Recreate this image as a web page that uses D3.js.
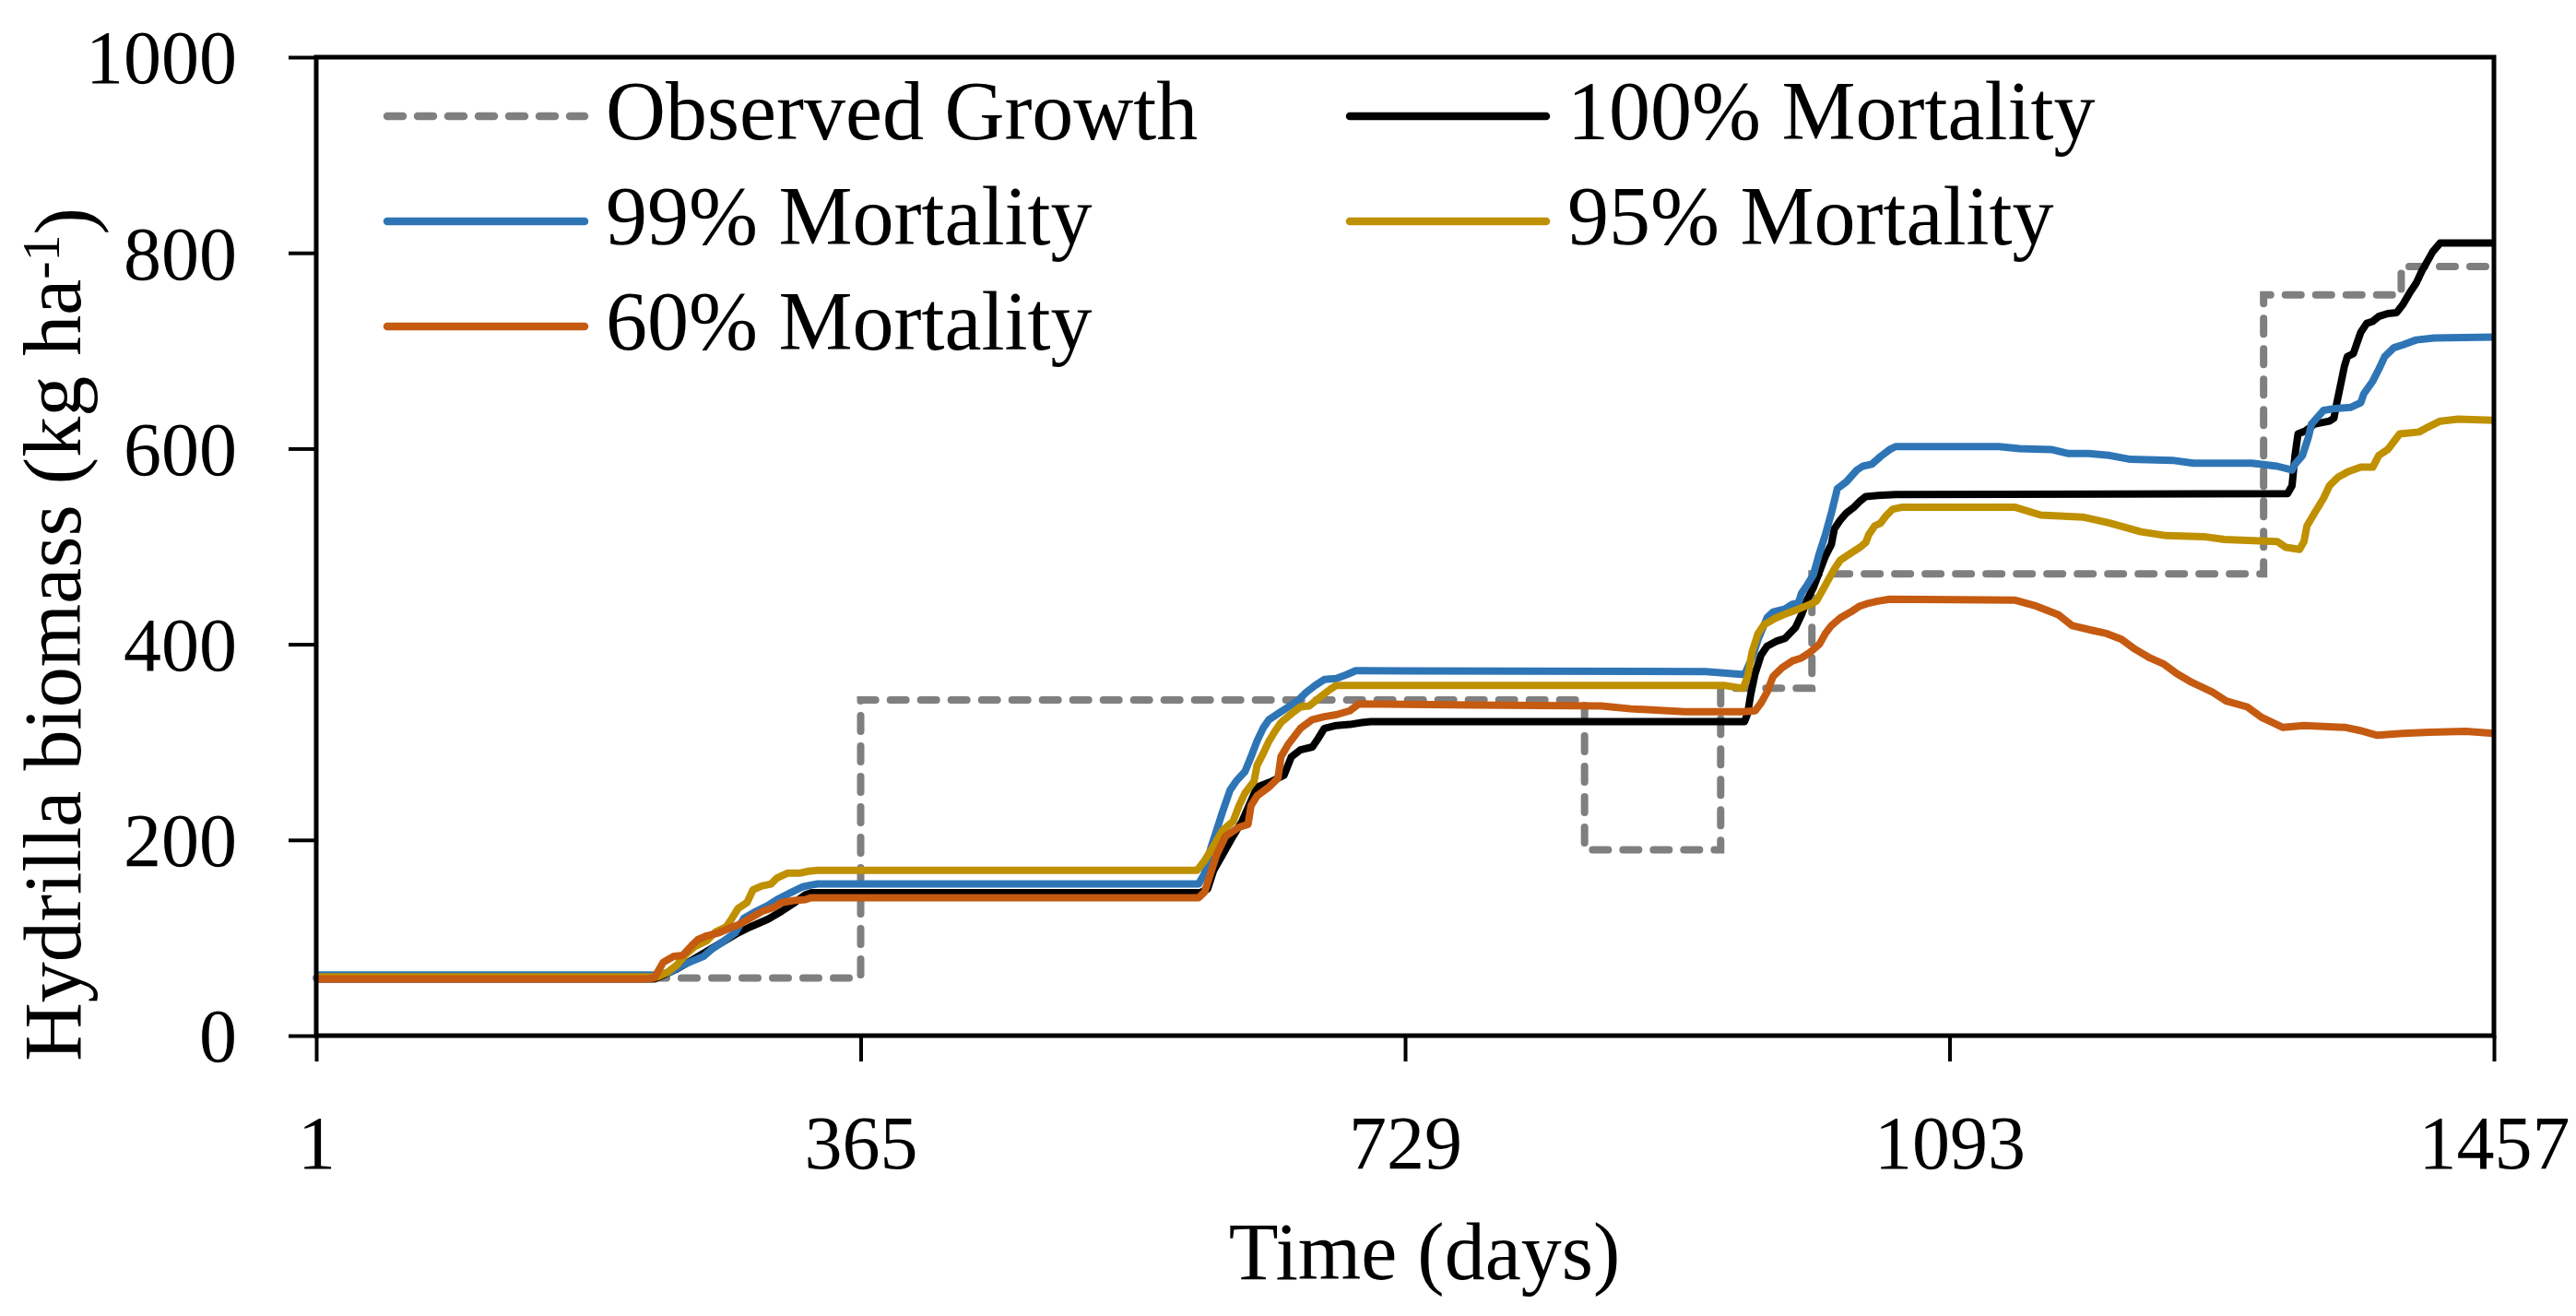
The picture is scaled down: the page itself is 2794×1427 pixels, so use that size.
<!DOCTYPE html>
<html>
<head>
<meta charset="utf-8">
<script src="https://cdn.jsdelivr.net/npm/d3@7"></script>
<style>
  html, body { margin: 0; padding: 0; background: #fff; }
  svg { display: block; }
  text { font-family: "Liberation Serif", "Times New Roman", serif; fill: #000; }
</style>
</head>
<body>
<svg id="chart" width="2794" height="1427"></svg>
<script>
// ---------------- DATA ----------------
const xTickValues = [1, 365, 729, 1093, 1457];
const yTickValues = [0, 200, 400, 600, 800, 1000];

const observedDays   = [1, 365, 849, 940, 1001, 1303, 1395, 1457];
const observedValues = [59, 343, 190, 355, 472, 757, 786, 786];

const mortality100 = [[1,58],[221,58],[227,58],[242,68],[262,86],[283,105],[291,111],[303,119],[312,127],[320,135],[328,144],[332,146],[592,146],[597,150],[601,169],[607,185],[614,204],[620,219],[630,254],[640,260],[648,266],[653,285],[659,292],[667,295],[671,304],[675,314],[683,317],[692,318],[700,320],[706,321],[956,321],[958,329],[960,348],[963,370],[967,389],[971,398],[977,403],[983,406],[990,417],[994,430],[998,446],[1002,458],[1006,474],[1010,490],[1014,502],[1016,518],[1020,527],[1024,534],[1029,540],[1033,546],[1037,551],[1045,552],[1057,553],[1319,554],[1322,562],[1324,593],[1326,615],[1331,618],[1337,625],[1347,628],[1350,631],[1352,647],[1355,669],[1357,684],[1359,694],[1363,697],[1365,706],[1368,719],[1372,728],[1376,730],[1380,735],[1386,738],[1392,739],[1396,747],[1401,760],[1405,769],[1409,782],[1412,790],[1416,801],[1421,810],[1457,810]];

const mortality99 = [[1,62],[221,62],[229,62],[238,65],[246,72],[252,76],[260,81],[266,89],[272,95],[281,105],[287,120],[295,127],[303,133],[309,139],[318,146],[326,152],[332,154],[336,155],[591,155],[595,166],[599,191],[603,210],[607,229],[612,251],[616,260],[622,270],[626,285],[630,301],[634,314],[638,323],[644,329],[651,336],[657,342],[663,351],[669,358],[675,364],[683,365],[690,369],[696,373],[700,373],[930,372],[956,369],[958,376],[961,386],[965,405],[971,427],[975,433],[983,436],[988,441],[992,442],[994,452],[998,461],[1002,471],[1006,493],[1010,512],[1014,534],[1018,559],[1024,566],[1031,578],[1035,582],[1041,584],[1047,592],[1053,599],[1057,602],[1126,602],[1140,600],[1161,599],[1172,595],[1186,595],[1200,593],[1214,589],[1242,588],[1256,585],[1295,585],[1312,582],[1322,578],[1324,584],[1329,593],[1333,612],[1335,625],[1343,639],[1351,641],[1361,642],[1368,647],[1370,656],[1376,669],[1380,681],[1384,694],[1390,703],[1396,706],[1405,711],[1417,713],[1457,714]];

const mortality95 = [[1,60],[229,60],[236,65],[242,72],[248,83],[254,91],[262,97],[268,106],[275,111],[279,120],[283,130],[289,136],[293,149],[299,153],[305,155],[309,161],[316,166],[324,166],[330,168],[336,169],[590,169],[595,179],[601,194],[607,210],[614,219],[618,235],[622,248],[628,260],[630,276],[634,288],[638,301],[642,311],[646,320],[653,329],[659,336],[665,337],[669,342],[673,347],[679,354],[683,358],[942,358],[955,355],[958,367],[961,392],[965,411],[969,420],[977,427],[985,432],[992,436],[1000,441],[1004,444],[1008,455],[1012,466],[1016,477],[1020,486],[1027,493],[1033,499],[1037,504],[1039,512],[1043,521],[1047,524],[1051,532],[1055,538],[1061,540],[1137,540],[1154,532],[1182,530],[1200,524],[1221,515],[1238,511],[1263,510],[1277,507],[1312,505],[1318,499],[1327,497],[1330,505],[1332,521],[1337,534],[1343,549],[1347,562],[1353,571],[1359,576],[1368,581],[1376,581],[1380,593],[1386,599],[1394,615],[1407,617],[1413,622],[1421,628],[1433,630],[1457,629]];

const mortality60 = [[1,58],[221,58],[227,59],[233,75],[240,81],[246,82],[252,92],[256,98],[262,102],[270,105],[279,111],[283,113],[291,120],[299,127],[307,131],[312,136],[320,138],[328,139],[332,141],[591,141],[595,147],[599,166],[603,185],[609,204],[618,213],[624,216],[626,235],[630,245],[638,254],[644,263],[646,285],[651,298],[659,314],[667,323],[675,326],[683,328],[692,332],[698,339],[776,338],[860,337],[880,334],[916,331],[955,331],[963,332],[967,340],[971,351],[975,367],[981,376],[988,383],[994,386],[1000,392],[1006,400],[1010,411],[1014,419],[1020,427],[1027,433],[1033,439],[1039,442],[1045,444],[1053,446],[1137,445],[1151,439],[1166,430],[1175,419],[1189,414],[1198,411],[1208,405],[1217,395],[1227,386],[1236,380],[1245,370],[1255,361],[1269,351],[1278,342],[1292,336],[1302,325],[1316,315],[1330,317],[1358,315],[1367,312],[1379,307],[1396,309],[1414,310],[1438,311],[1457,309]];

const seriesNames  = ["Observed Growth", "100% Mortality", "99% Mortality", "95% Mortality", "60% Mortality"];
const seriesColors = ["#7f7f7f", "#000000", "#2e75b6", "#bf9000", "#c55a11"];

// ---------------- LAYOUT ----------------
const svg = d3.select("#chart");
const W = 2794, H = 1427;
const plot = { left: 343, right: 2705, top: 62, bottom: 1123 };

svg.append("rect").attr("width", W).attr("height", H).attr("fill", "#fff");

const x = d3.scaleLinear().domain([1, 1457]).range([plot.left, plot.right]);
const y = d3.scaleLinear().domain([0, 1000]).range([plot.bottom, plot.top]);

const lineGen = d3.line().x(d => x(d[0])).y(d => y(d[1]));
const stepGen = d3.line().x(d => x(d[0])).y(d => y(d[1])).curve(d3.curveStepAfter);

const observed = observedDays.map((d, i) => [d, observedValues[i]]);

const g = svg.append("g");

// observed dashed (drawn first)
g.append("path")
  .datum(observed)
  .attr("d", stepGen)
  .attr("fill", "none")
  .attr("stroke", seriesColors[0])
  .attr("stroke-width", 8)
  .attr("stroke-dasharray", "17,16")
  .attr("stroke-linecap", "round");

const simSeries = [mortality100, mortality99, mortality95, mortality60];
simSeries.forEach((s, i) => {
  g.append("path")
    .datum(s)
    .attr("d", lineGen)
    .attr("fill", "none")
    .attr("stroke", seriesColors[i + 1])
    .attr("stroke-width", 8)
    .attr("stroke-linejoin", "round");
});

// plot border
svg.append("rect")
  .attr("x", plot.left).attr("y", plot.top)
  .attr("width", plot.right - plot.left).attr("height", plot.bottom - plot.top)
  .attr("fill", "none").attr("stroke", "#000").attr("stroke-width", 5);

// axes
const xAxis = d3.axisBottom(x).tickValues(xTickValues).tickSize(28).tickSizeOuter(0).tickFormat(d3.format("d"));
const gx = svg.append("g").attr("transform", `translate(0,${plot.bottom})`).call(xAxis);
gx.select(".domain").remove();
gx.selectAll(".tick line").attr("stroke", "#000").attr("stroke-width", 4);
gx.selectAll(".tick text").attr("y", 144).attr("dy", 0)
  .style("font-family", '"Liberation Serif", serif').style("font-size", "82px").attr("fill", "#000");

const yAxis = d3.axisLeft(y).tickValues(yTickValues).tickSize(30).tickPadding(56).tickSizeOuter(0).tickFormat(d3.format("d"));
const gy = svg.append("g").attr("transform", `translate(${plot.left},0)`).call(yAxis);
gy.select(".domain").remove();
gy.selectAll(".tick line").attr("stroke", "#000").attr("stroke-width", 4);
gy.selectAll(".tick text").attr("dy", "0.34em")
  .style("font-family", '"Liberation Serif", serif').style("font-size", "82px").attr("fill", "#000");

// axis titles
svg.append("text")
  .attr("x", 1545).attr("y", 1387)
  .attr("text-anchor", "middle")
  .style("font-size", "88px")
  .text("Time (days)");

const yt = svg.append("text")
  .attr("transform", "translate(87,688) rotate(-90)")
  .attr("text-anchor", "middle")
  .style("font-size", "88px");
yt.append("tspan").text("Hydrilla biomass (kg ha");
yt.append("tspan").attr("dy", "-0.4em").style("font-size", "58px").text("-1");
yt.append("tspan").attr("dy", "0.4em").text(")");

// legend
const legendItems = [
  { i: 0, col: 0, row: 0 },
  { i: 1, col: 1, row: 0 },
  { i: 2, col: 0, row: 1 },
  { i: 3, col: 1, row: 1 },
  { i: 4, col: 0, row: 2 }
];
const legCols = [{ x1: 420, x2: 634, tx: 657 }, { x1: 1464, x2: 1677, tx: 1700 }];
const legRows = [126, 240, 354];
const leg = svg.append("g");
legendItems.forEach(it => {
  const c = legCols[it.col], ry = legRows[it.row];
  const ln = leg.append("line")
    .attr("x1", c.x1).attr("x2", c.x2).attr("y1", ry).attr("y2", ry)
    .attr("stroke", seriesColors[it.i]).attr("stroke-width", 8.5)
    .attr("stroke-linecap", "round");
  if (it.i === 0) ln.attr("stroke-dasharray", "17,16");
  leg.append("text")
    .attr("x", c.tx).attr("y", ry + 25)
    .style("font-size", "90px")
    .text(seriesNames[it.i]);
});
</script>
</body>
</html>
